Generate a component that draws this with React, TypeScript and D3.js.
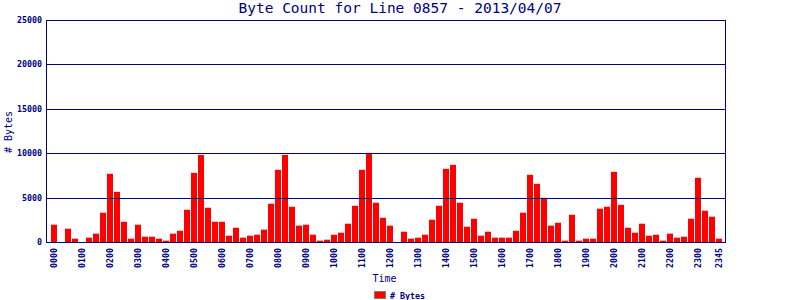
import React from "react";
import * as d3 from "d3";

const TITLE = "Byte Count for Line 0857 - 2013/04/07";
const SERIES_NAME = "# Bytes";

const times: string[] = [];
for (let h = 0; h < 24; h++) {
  for (const m of ["00", "15", "30", "45"]) times.push(String(h).padStart(2, "0") + m);
}

const bytes: number[] = [
  1950, 0, 1500, 375, 0, 490, 940, 3300,
  7680, 5650, 2280, 375, 1950, 600, 600, 375,
  150, 940, 1270, 3630, 7790, 9810, 3860, 2280,
  2280, 710, 1610, 490, 710, 820, 1390, 4310,
  8130, 9810, 3970, 1840, 1950, 820, 150, 260,
  820, 1050, 2060, 4080, 8130, 10040, 4420, 2730,
  1840, 0, 1160, 375, 490, 820, 2510, 4080,
  8240, 8690, 4420, 1720, 2620, 710, 1160, 490,
  490, 490, 1270, 3300, 7570, 6550, 4980, 1840,
  2170, 150, 3070, 150, 375, 375, 3750, 3970,
  7900, 4190, 1610, 1050, 2060, 710, 820, 150,
  940, 490, 600, 2620, 7230, 3520, 2850, 375,
];

const yTicks = [0, 5000, 10000, 15000, 20000, 25000];
const xTickLabels = times.filter((t, i) => i % 4 === 0 || i === times.length - 1);

const NAVY = "#000080";
const MONO = "'DejaVu Sans Mono', monospace";

export default function App() {
  const left = 46, right = 725, top = 20, bottom = 242;
  const x = d3.scaleBand<string>().domain(times).range([51, 722]).paddingInner(1 / 7).paddingOuter(0);
  const y = d3.scaleLinear().domain([0, 25000]).range([bottom, top]);
  const py = (v: number) => Math.round(y(v)) + 0.5;

  return (
    <svg width={800} height={300} style={{ position: "absolute", left: 0, top: 0, background: "#fff" }}>
      <rect x={0} y={0} width={800} height={300} fill="#fff" />
      <text x={400} y={13} textAnchor="middle" fontFamily={MONO} fontSize={14.5} fill={NAVY}>{TITLE}</text>
      {/* bars */}
      {times.map((t, i) => (
        <rect key={t} x={x(t)!} y={y(bytes[i])} width={x.bandwidth()} height={bottom - y(bytes[i])} fill="#ff0000" />
      ))}
      {/* gridlines */}
      {yTicks.map((v) => (
        <line key={v} x1={left} x2={right + 1} y1={py(v)} y2={py(v)} stroke={NAVY} strokeWidth={1} />
      ))}
      <line x1={left + 0.5} x2={left + 0.5} y1={top} y2={bottom + 1} stroke={NAVY} />
      <line x1={right + 0.5} x2={right + 0.5} y1={top} y2={bottom + 1} stroke={NAVY} />
      {yTicks.map((v) => (
        <text key={"l" + v} x={42} y={y(v)} dy="0.35em" textAnchor="end" fontFamily={MONO} fontWeight="bold" fontSize={8.3} fill={NAVY}>{v}</text>
      ))}
      {xTickLabels.map((t) => (
        <text key={"x" + t} transform={`translate(${x(t)! + x.bandwidth() / 2},248) rotate(-90)`} dy="0.35em" textAnchor="end" fontFamily={MONO} fontWeight="bold" fontSize={8.3} fill={NAVY}>{t}</text>
      ))}
      <text transform="translate(12,132) rotate(-90)" textAnchor="middle" fontFamily={MONO} fontSize={10} fill={NAVY}>{SERIES_NAME}</text>
      <text x={384.5} y={282} textAnchor="middle" fontFamily={MONO} fontSize={10} fill={NAVY}>Time</text>
      <rect x={374.5} y={291.5} width={11} height={7} fill="#ff0000" stroke="#808080" strokeWidth={1} />
      <text x={390} y={298.5} fontFamily={MONO} fontWeight="bold" fontSize={8.3} fill={NAVY}>{SERIES_NAME}</text>
    </svg>
  );
}
